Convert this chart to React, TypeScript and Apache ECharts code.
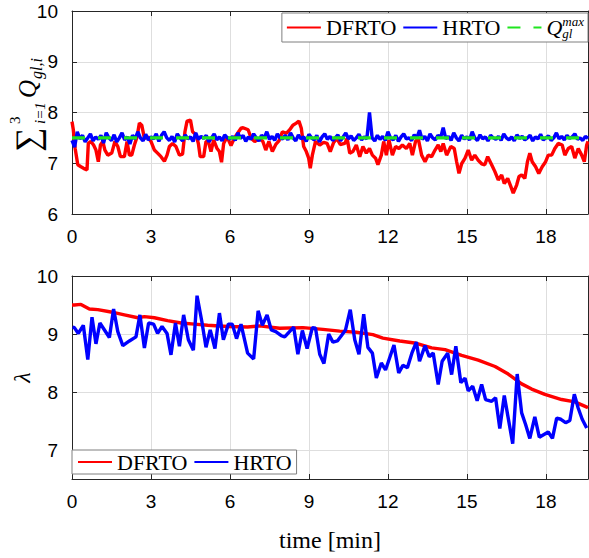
import React, { useEffect, useRef } from "react";
import * as echarts from "echarts";

// ---------- data ----------
const T_MIN = 0;
const T_MAX = 19.6;
const X_TICK_STEP = 3;
const Q_MAX = 7.5;
const TOP_Y_TICKS = [6, 7, 8, 9, 10];
const BOTTOM_Y_TICKS = [7, 8, 9, 10];

// top plot: sum of gas-lift rates, DFRTO (time [min], value)
const topDfrto: [number, number][] = [
  [0, 7.82], [0.05, 7.66], [0.12, 7.29], [0.22, 6.97], [0.34, 6.93], [0.44, 6.9], [0.57, 6.87], [0.62, 7.39],
  [0.72, 7.43], [0.82, 7.36], [0.91, 7.26], [1.0, 7.03], [1.08, 7.36], [1.17, 7.43], [1.25, 7.26], [1.36, 7.16],
  [1.51, 7.2], [1.63, 7.43], [1.74, 7.33], [1.84, 7.13], [1.99, 7.13], [2.09, 7.43], [2.18, 7.16], [2.27, 7.16],
  [2.37, 7.36], [2.47, 7.52], [2.56, 7.79], [2.65, 7.75], [2.75, 7.49], [2.87, 7.52], [3.0, 7.43], [3.13, 7.26],
  [3.25, 7.2], [3.38, 7.13], [3.51, 7.04], [3.61, 7.16], [3.7, 7.33], [3.82, 7.39], [3.95, 7.33], [4.08, 7.16],
  [4.2, 7.18], [4.29, 7.62], [4.37, 7.83], [4.5, 7.85], [4.58, 7.62], [4.71, 7.56], [4.8, 7.39], [4.87, 7.13],
  [5.0, 7.13], [5.09, 7.43], [5.18, 7.43], [5.28, 7.23], [5.38, 7.46], [5.51, 7.29], [5.6, 7.23], [5.68, 7.02],
  [5.76, 7.39], [5.89, 7.52], [6.04, 7.35], [6.17, 7.5], [6.29, 7.59], [6.42, 7.69], [6.5, 7.7], [6.69, 7.66],
  [6.81, 7.49], [6.94, 7.43], [7.13, 7.49], [7.25, 7.43], [7.36, 7.26], [7.48, 7.43], [7.61, 7.23], [7.74, 7.37],
  [7.86, 7.44], [7.99, 7.62], [8.14, 7.59], [8.27, 7.66], [8.39, 7.75], [8.52, 7.79], [8.62, 7.83], [8.71, 7.69],
  [8.8, 7.33], [8.9, 7.23], [8.99, 7.1], [9.05, 6.9], [9.13, 7.16], [9.25, 7.43], [9.41, 7.36], [9.56, 7.41],
  [9.69, 7.39], [9.81, 7.23], [9.94, 7.41], [10.06, 7.49], [10.19, 7.37], [10.36, 7.39], [10.45, 7.49], [10.55, 7.2],
  [10.67, 7.23], [10.8, 7.36], [10.93, 7.13], [11.05, 7.33], [11.18, 7.2], [11.3, 7.29], [11.41, 7.16], [11.53, 7.1],
  [11.62, 6.97], [11.75, 7.16], [11.84, 7.43], [11.94, 7.16], [12.04, 7.46], [12.17, 7.16], [12.29, 7.33], [12.42, 7.29],
  [12.55, 7.36], [12.7, 7.29], [12.83, 7.39], [12.93, 7.16], [13.05, 7.43], [13.15, 7.49], [13.28, 7.16], [13.41, 7.03],
  [13.53, 7.16], [13.66, 7.13], [13.79, 7.26], [13.91, 7.36], [14.01, 7.23], [14.1, 7.39], [14.23, 7.16], [14.39, 7.33],
  [14.52, 7.29], [14.61, 7.03], [14.7, 6.8], [14.8, 6.99], [14.93, 7.1], [15.05, 7.26], [15.18, 7.06], [15.3, 7.16],
  [15.43, 7.06], [15.56, 6.99], [15.68, 6.97], [15.79, 7.13], [15.94, 6.97], [16.06, 6.84], [16.19, 6.67], [16.32, 6.77],
  [16.42, 6.6], [16.55, 6.7], [16.67, 6.54], [16.76, 6.41], [16.89, 6.57], [16.98, 6.74], [17.08, 6.77], [17.2, 6.7],
  [17.3, 7.03], [17.39, 7.2], [17.48, 7.03], [17.61, 6.93], [17.73, 6.8], [17.86, 6.93], [17.99, 7.03], [18.09, 7.16],
  [18.22, 7.16], [18.34, 7.29], [18.47, 7.39], [18.62, 7.36], [18.72, 7.16], [18.85, 7.29], [18.98, 7.33], [19.1, 7.1],
  [19.23, 7.29], [19.36, 7.16], [19.46, 7.03], [19.55, 7.36], [19.6, 7.43],
];

// top plot: HRTO sampled every HRTO_TOP_STEP minutes from t = 0
const HRTO_TOP_STEP = 0.1;
const topHrtoValues = [
  7.45, 7.32, 7.62, 7.48, 7.55, 7.42, 7.5, 7.58, 7.44, 7.52, 7.47,
  7.55, 7.4, 7.6, 7.5, 7.45, 7.56, 7.42, 7.5, 7.6, 7.46,
  7.52, 7.38, 7.55, 7.48, 7.62, 7.5, 7.44, 7.57, 7.46, 7.52,
  7.48, 7.58, 7.43, 7.55, 7.62, 7.5, 7.45, 7.53, 7.42, 7.58,
  7.5, 7.44, 7.56, 7.48, 7.52, 7.43, 7.6, 7.47, 7.53, 7.49,
  7.55, 7.42, 7.5, 7.58, 7.46, 7.52, 7.44, 7.56, 7.5, 7.48,
  7.53, 7.45, 7.6, 7.49, 7.55, 7.43, 7.52, 7.47, 7.58, 7.5,
  7.44, 7.55, 7.5, 7.62, 7.47, 7.53, 7.45, 7.58, 7.5, 7.48,
  7.55, 7.46, 7.6, 7.5, 7.44, 7.56, 7.48, 7.52, 7.43, 7.57,
  7.5, 7.46, 7.55, 7.42, 7.52, 7.58, 7.47, 7.53, 7.45, 7.5,
  7.56, 7.44, 7.52, 7.6, 7.48, 7.54, 7.45, 7.5, 7.57, 7.46,
  7.52, 7.48, 8.0, 7.5, 7.44, 7.55, 7.47, 7.53, 7.45, 7.62,
  7.5, 7.46, 7.55, 7.43, 7.52, 7.58, 7.48, 7.5, 7.45, 7.56,
  7.5, 7.65, 7.47, 7.53, 7.44, 7.58, 7.5, 7.46, 7.55, 7.5,
  7.7, 7.48, 7.53, 7.45, 7.6, 7.5, 7.44, 7.55, 7.48, 7.52,
  7.46, 7.62, 7.5, 7.45, 7.56, 7.48, 7.52, 7.44, 7.55, 7.5,
  7.47, 7.53, 7.45, 7.58, 7.5, 7.46, 7.52, 7.44, 7.56, 7.49,
  7.53, 7.46, 7.5, 7.55, 7.44, 7.52, 7.48, 7.57, 7.46, 7.5,
  7.54, 7.45, 7.5, 7.6, 7.48, 7.53, 7.46, 7.55, 7.49, 7.52,
  7.58, 7.47, 7.5, 7.45, 7.53, 7.49,
];

// bottom plot: lambda
const bottomDfrto: [number, number][] = [
  [0, 9.5], [0.09, 9.5], [0.34, 9.51], [0.66, 9.43], [0.98, 9.42], [1.48, 9.38], [1.99, 9.33], [2.5, 9.28],
  [2.75, 9.3], [3.13, 9.28], [3.63, 9.23], [4.14, 9.19], [4.65, 9.17], [5.15, 9.15], [5.91, 9.13], [6.67, 9.12],
  [7.13, 9.14], [7.89, 9.1], [8.77, 9.11], [9.53, 9.08], [10.17, 9.05], [10.8, 9.03], [11.43, 8.99], [11.81, 8.93],
  [12.45, 8.88], [13.08, 8.84], [13.66, 8.76], [14.17, 8.73], [14.8, 8.63], [15.43, 8.55], [16.07, 8.44], [16.57, 8.31],
  [17.08, 8.14], [17.46, 8.05], [17.96, 7.96], [18.6, 7.87], [19.1, 7.83], [19.6, 7.73],
];

const bottomHrto: [number, number][] = [
  [0.02, 9.12], [0.09, 9.11], [0.24, 9.01], [0.43, 9.15], [0.6, 8.56], [0.76, 9.29], [0.91, 8.83], [1.06, 9.19],
  [1.42, 8.94], [1.58, 9.43], [1.74, 9.04], [1.93, 8.8], [2.18, 8.88], [2.43, 8.95], [2.58, 9.33], [2.75, 8.76],
  [2.91, 9.19], [3.1, 9.17], [3.25, 9.01], [3.42, 9.13], [3.61, 9.01], [3.76, 8.64], [3.93, 9.19], [4.08, 8.79],
  [4.24, 9.33], [4.42, 8.9], [4.61, 8.72], [4.75, 9.66], [4.93, 9.22], [5.09, 8.77], [5.25, 9.07], [5.43, 8.75],
  [5.6, 9.36], [5.75, 8.9], [5.94, 9.17], [6.09, 9.17], [6.25, 8.92], [6.42, 9.17], [6.67, 8.67], [6.9, 8.57],
  [7.07, 9.4], [7.23, 9.15], [7.41, 9.33], [7.57, 9.07], [7.74, 9.04], [7.95, 8.97], [8.08, 8.95], [8.42, 9.12],
  [8.58, 8.65], [8.75, 9.06], [8.93, 8.75], [9.13, 9.11], [9.25, 9.1], [9.41, 8.65], [9.57, 8.49], [9.75, 9.0],
  [9.91, 8.86], [10.08, 8.88], [10.23, 8.97], [10.39, 9.07], [10.57, 9.42], [10.74, 8.9], [10.9, 8.65], [11.08, 9.34],
  [11.24, 8.77], [11.41, 8.67], [11.56, 8.24], [11.75, 8.5], [11.91, 8.38], [12.23, 8.81], [12.41, 8.33], [12.57, 8.46],
  [12.74, 8.42], [12.91, 8.67], [13.08, 8.86], [13.2, 8.53], [13.41, 8.8], [13.57, 8.61], [13.72, 8.67], [13.91, 8.13],
  [14.06, 8.53], [14.27, 8.67], [14.42, 8.3], [14.58, 8.79], [14.77, 8.16], [14.93, 8.24], [15.05, 8.02], [15.22, 8.1],
  [15.39, 7.85], [15.56, 8.13], [15.71, 7.87], [15.94, 7.84], [16.09, 7.9], [16.25, 7.37], [16.42, 7.94], [16.57, 7.55],
  [16.74, 7.11], [16.91, 8.31], [17.08, 7.64], [17.23, 7.44], [17.39, 7.2], [17.58, 7.57], [17.75, 7.22], [18.09, 7.31],
  [18.25, 7.2], [18.41, 7.55], [18.57, 7.53], [18.75, 7.47], [18.91, 7.51], [19.08, 7.96], [19.23, 7.72], [19.38, 7.53],
  [19.55, 7.38],
];

// ---------- styling ----------
const AX = "#262626";
const GRID = "#dedede";
const SANS = "'Liberation Sans', Arial, Helvetica, sans-serif";
const SERIF = "'Liberation Serif', 'Times New Roman', serif";
const RED = "#ff0000";
const BLUE = "#0000ff";
const GREEN = "#1fe51f";
const LW = 3.4;

function xAxisPair(gridIndex: number, withName: boolean) {
  const base = {
    gridIndex,
    type: "value" as const,
    min: T_MIN,
    max: T_MAX,
    interval: X_TICK_STEP,
  };
  return [
    {
      ...base,
      position: "bottom",
      name: withName ? "time [min]" : "",
      nameLocation: "middle",
      nameGap: 49,
      nameMoveOverlap: false,
      nameTextStyle: { fontFamily: SERIF, fontSize: 24, color: "#000" },
      axisLine: { show: true, onZero: false, lineStyle: { color: AX, width: 1 } },
      axisTick: { show: true, inside: true, length: 5, lineStyle: { color: AX } },
      axisLabel: {
        show: true, margin: 13, fontFamily: SANS, fontSize: 19, color: "#000",
        showMaxLabel: false,
      },
      splitLine: { show: true, lineStyle: { color: GRID, width: 1 } },
    },
    {
      ...base,
      position: "top",
      axisLine: { show: true, onZero: false, lineStyle: { color: AX, width: 1 } },
      axisTick: { show: true, inside: true, length: 5, lineStyle: { color: AX } },
      axisLabel: { show: false },
      splitLine: { show: false },
    },
  ];
}

function yAxisPair(gridIndex: number, min: number, max: number, ticks: number[], name: string) {
  const base = { gridIndex, type: "value" as const, min, max };
  return [
    {
      ...base,
      position: "left",
      name,
      nameLocation: "middle",
      nameRotate: 90,
      nameGap: 38,
      nameMoveOverlap: false,
      nameTextStyle: { fontFamily: SERIF, fontSize: 24, fontStyle: "italic", color: "#000" },
      axisLine: { show: true, onZero: false, lineStyle: { color: AX, width: 1 } },
      axisTick: { show: true, inside: true, length: 5, lineStyle: { color: AX }, customValues: ticks },
      axisLabel: { show: true, margin: 14, fontFamily: SANS, fontSize: 19, color: "#000", customValues: ticks },
      splitLine: { show: true, lineStyle: { color: GRID, width: 1 } },
    },
    {
      ...base,
      position: "right",
      axisLine: { show: true, onZero: false, lineStyle: { color: AX, width: 1 } },
      axisTick: { show: true, inside: true, length: 5, lineStyle: { color: AX }, customValues: ticks },
      axisLabel: { show: false, customValues: ticks },
      splitLine: { show: false },
    },
  ];
}

const legendBase = {
  orient: "horizontal" as const,
  backgroundColor: "#ffffff",
  borderColor: "#7f7f7f",
  borderWidth: 1,
  borderRadius: 0,
  itemWidth: 34,
  itemHeight: 14,
  itemGap: 6,
  selectedMode: false,
  itemStyle: { opacity: 0, borderWidth: 0 },
  textStyle: {
    fontFamily: SERIF,
    fontSize: 22,
    color: "#000",
    rich: {
      q: { fontFamily: SERIF, fontSize: 22, fontStyle: "italic", color: "#000" },
      sub: { fontFamily: SERIF, fontSize: 13, fontStyle: "italic", color: "#000", verticalAlign: "bottom", width: 0, padding: [12, 0, 0, 0] },
      sup: { fontFamily: SERIF, fontSize: 13, fontStyle: "italic", color: "#000", verticalAlign: "top", padding: [0, 0, 12, 0] },
    },
  },
  formatter: (name: string) => (name === "Qmax" ? "{q|Q}{sub|gl}{sup|max}" : name),
};

export default function App() {
  const ref = useRef<HTMLDivElement | null>(null);

  useEffect(() => {
    document.body.style.margin = "0";
    if (!ref.current) return;
    const chart = echarts.init(ref.current, null, { renderer: "svg" });

    const topHrto = topHrtoValues.map((v, i) => [+(i * HRTO_TOP_STEP).toFixed(2), v]);
    const qLine = [[T_MIN, Q_MAX], [T_MAX, Q_MAX]];

    const option: any = {
      animation: false,
      backgroundColor: "#ffffff",
      grid: [
        { left: 72, top: 11, width: 516, height: 203, show: false },
        { left: 72, top: 276, width: 516, height: 203, show: false },
      ],
      xAxis: [...xAxisPair(0, false), ...xAxisPair(1, true)],
      yAxis: [
        ...yAxisPair(0, 6, 10, TOP_Y_TICKS, ""),
        ...yAxisPair(1, 6.5, 10, BOTTOM_Y_TICKS, "λ"),
      ],
      legend: [
        { ...legendBase, right: 1, top: 13, padding: [2, 4, 2, 4], data: ["DFRTO", "HRTO", "Qmax"] },
        { ...legendBase, left: 72, top: 450, padding: [1, 5, 1, 5], data: ["DFRTO", "HRTO"] },
      ],
      graphic: [
        {
          type: "group",
          x: 27,
          y: 152,
          rotation: Math.PI / 2,
          silent: true,
          children: [
            { type: "text", x: 0, y: 0, style: { text: "∑", font: `34px ${SERIF}`, fill: "#000", verticalAlign: "middle", align: "left" } },
            { type: "text", x: 28, y: -12, style: { text: "3", font: `15px ${SERIF}`, fill: "#000", verticalAlign: "middle", align: "left" } },
            { type: "text", x: 28, y: 13, style: { text: "i=1", font: `italic 15px ${SERIF}`, fill: "#000", verticalAlign: "middle", align: "left" } },
            { type: "text", x: 54, y: 0, style: { text: "Q", font: `italic 25px ${SERIF}`, fill: "#000", verticalAlign: "middle", align: "left" } },
            { type: "text", x: 73, y: 9, style: { text: "gl,i", font: `italic 16px ${SERIF}`, fill: "#000", verticalAlign: "middle", align: "left" } },
          ],
        },
      ],
      series: [
        {
          name: "DFRTO", type: "line", xAxisIndex: 0, yAxisIndex: 0, data: topDfrto,
          symbol: "none", lineStyle: { color: RED, width: LW }, itemStyle: { color: RED },
        },
        {
          name: "HRTO", type: "line", xAxisIndex: 0, yAxisIndex: 0, data: topHrto,
          symbol: "none", lineStyle: { color: BLUE, width: LW }, itemStyle: { color: BLUE },
        },
        {
          name: "Qmax", type: "line", xAxisIndex: 0, yAxisIndex: 0, data: qLine,
          symbol: "none", lineStyle: { color: GREEN, width: LW, type: [13, 13] }, itemStyle: { color: GREEN },
        },
        {
          name: "DFRTO", type: "line", xAxisIndex: 2, yAxisIndex: 2, data: bottomDfrto,
          symbol: "none", lineStyle: { color: RED, width: LW }, itemStyle: { color: RED },
        },
        {
          name: "HRTO", type: "line", xAxisIndex: 2, yAxisIndex: 2, data: bottomHrto,
          symbol: "none", lineStyle: { color: BLUE, width: LW }, itemStyle: { color: BLUE },
        },
      ],
    };

    chart.setOption(option);
    return () => chart.dispose();
  }, []);

  return <div ref={ref} style={{ width: 589, height: 558 }} />;
}
